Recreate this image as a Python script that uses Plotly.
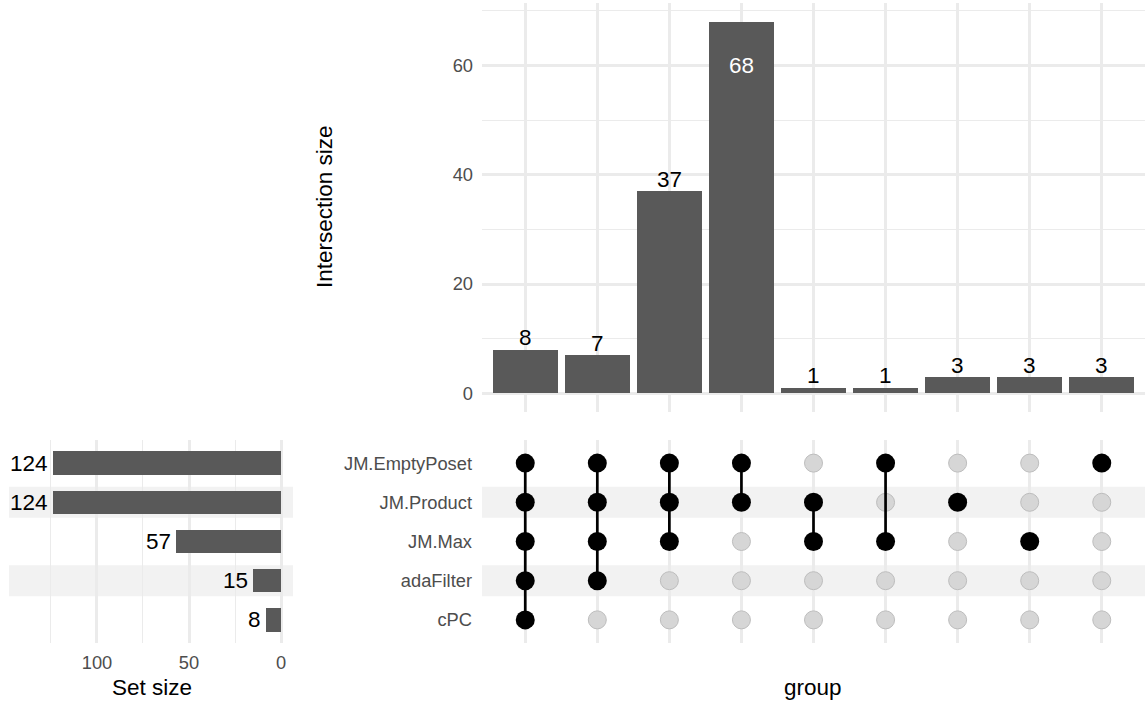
import plotly.graph_objects as go

# Sets, bottom row to top row of the matrix
set_names = ["cPC", "adaFilter", "JM.Max", "JM.Product", "JM.EmptyPoset"]
set_sizes = [8, 15, 57, 124, 124]

# Intersections (left to right): member sets and their sizes
intersection_members = [
    ["cPC", "adaFilter", "JM.Max", "JM.Product", "JM.EmptyPoset"],
    ["adaFilter", "JM.Max", "JM.Product", "JM.EmptyPoset"],
    ["JM.Max", "JM.Product", "JM.EmptyPoset"],
    ["JM.Product", "JM.EmptyPoset"],
    ["JM.Max", "JM.Product"],
    ["JM.Max", "JM.EmptyPoset"],
    ["JM.Product"],
    ["JM.Max"],
    ["JM.EmptyPoset"],
]
intersection_sizes = [8, 7, 37, 68, 1, 1, 3, 3, 3]

W, H = 1145, 705
FONT = "Liberation Sans, Arial, sans-serif"
BAR = "#595959"
GRID = "#ebebeb"
TICK = "#4d4d4d"
STRIPE = "#f2f2f2"
TITLE_SIZE = 22.5
TICK_SIZE = 18.3
LABEL_SIZE = 22.5


def px_x(a, b):
    return [a / W, b / W]


def px_y(top, bottom):
    return [1 - bottom / H, 1 - top / H]


cols = list(range(1, len(intersection_sizes) + 1))
rows = {name: i + 1 for i, name in enumerate(set_names)}

fig = go.Figure()

# Intersection size bars
fig.add_trace(go.Bar(
    x=cols, y=intersection_sizes, width=0.9, marker=dict(color=BAR, line=dict(width=0)),
    xaxis="x", yaxis="y", showlegend=False, hoverinfo="x+y",
))

# Matrix: dots for each set in each intersection, with connecting segments
inactive_x, inactive_y, active_x, active_y = [], [], [], []
seg_x, seg_y = [], []
for c, members in zip(cols, intersection_members):
    member_rows = sorted(rows[m] for m in members)
    for name in set_names:
        if name in members:
            active_x.append(c)
            active_y.append(rows[name])
        else:
            inactive_x.append(c)
            inactive_y.append(rows[name])
    if len(member_rows) > 1:
        seg_x += [c, c, None]
        seg_y += [member_rows[0], member_rows[-1], None]

fig.add_trace(go.Scatter(
    x=inactive_x, y=inactive_y, mode="markers", xaxis="x2", yaxis="y2",
    marker=dict(size=18, color="#d6d6d6", line=dict(color="#bdbdbd", width=1)),
    showlegend=False, hoverinfo="skip",
))
fig.add_trace(go.Scatter(
    x=seg_x, y=seg_y, mode="lines", xaxis="x2", yaxis="y2",
    line=dict(color="black", width=2.7), showlegend=False, hoverinfo="skip",
))
fig.add_trace(go.Scatter(
    x=active_x, y=active_y, mode="markers", xaxis="x2", yaxis="y2",
    marker=dict(size=19, color="black"), showlegend=False, hoverinfo="skip",
))

# Set size bars
fig.add_trace(go.Bar(
    x=set_sizes, y=[rows[n] for n in set_names], orientation="h", width=0.6,
    marker=dict(color=BAR, line=dict(width=0)), xaxis="x3", yaxis="y3",
    showlegend=False, hoverinfo="x",
))

annotations = []
max_size = max(intersection_sizes)
for c, v in zip(cols, intersection_sizes):
    if v > 0.85 * max_size:
        annotations.append(dict(
            x=c, y=v, xref="x", yref="y", text=str(v), showarrow=False,
            yanchor="middle", yshift=-44, font=dict(color="white", size=LABEL_SIZE, family=FONT),
        ))
    else:
        annotations.append(dict(
            x=c, y=v, xref="x", yref="y", text=str(v), showarrow=False,
            yanchor="middle", yshift=12, font=dict(color="black", size=LABEL_SIZE, family=FONT),
        ))

for name, v in zip(set_names, set_sizes):
    annotations.append(dict(
        x=v, y=rows[name], xref="x3", yref="y3", text=str(v), showarrow=False,
        xanchor="right", yanchor="middle", xshift=-3,
        font=dict(color="black", size=LABEL_SIZE, family=FONT),
    ))

# Axis titles
annotations += [
    dict(x=325 / W, y=1 - 207 / H, xref="paper", yref="paper", text="Intersection size",
         textangle=-90, showarrow=False, xanchor="center", yanchor="middle",
         font=dict(color="black", size=TITLE_SIZE, family=FONT)),
    dict(x=813 / W, y=1 - 687 / H, xref="paper", yref="paper", text="group",
         showarrow=False, xanchor="center", yanchor="middle",
         font=dict(color="black", size=TITLE_SIZE, family=FONT)),
    dict(x=152 / W, y=1 - 687 / H, xref="paper", yref="paper", text="Set size",
         showarrow=False, xanchor="center", yanchor="middle",
         font=dict(color="black", size=TITLE_SIZE, family=FONT)),
]

# Alternating row stripes behind matrix and set-size bars
shapes = []
for name in set_names:
    r = rows[name]
    if r % 2 == 0:
        for xr, yr in (("x2 domain", "y2"), ("x3 domain", "y3")):
            shapes.append(dict(
                type="rect", xref=xr, yref=yr, x0=0, x1=1, y0=r - 0.395, y1=r + 0.395,
                fillcolor=STRIPE, line=dict(width=0), layer="below",
            ))

matrix_range = [0.41, len(set_names) + 0.59]
col_range = [0.4, len(cols) + 0.6]
tickfont = dict(color=TICK, size=TICK_SIZE, family=FONT)

fig.update_layout(
    width=W, height=H, margin=dict(l=0, r=0, t=0, b=0),
    paper_bgcolor="white", plot_bgcolor="white", bargap=0,
    font=dict(family=FONT),
    xaxis=dict(domain=px_x(482, 1145), range=col_range, tickvals=cols, showticklabels=False,
               showgrid=True, gridcolor=GRID, gridwidth=2.5, zeroline=False, ticks="",
               anchor="y"),
    yaxis=dict(domain=px_y(3, 412), range=[-0.05 * max_size, 1.05 * max_size],
               tickvals=[0, 20, 40, 60], tickfont=tickfont, showgrid=True, gridcolor=GRID,
               gridwidth=2.5, zeroline=False, ticks="", ticklabelstandoff=8,
               minor=dict(tickvals=[10, 30, 50, 70], showgrid=True, gridcolor=GRID, gridwidth=1.3),
               anchor="x"),
    xaxis2=dict(domain=px_x(482, 1145), range=col_range, tickvals=cols, showticklabels=False,
                showgrid=True, gridcolor=GRID, gridwidth=2.5, zeroline=False, ticks="",
                anchor="y2"),
    yaxis2=dict(domain=px_y(440, 643), range=matrix_range,
                tickvals=[rows[n] for n in set_names], ticktext=set_names, tickfont=tickfont,
                showgrid=False, zeroline=False, ticks="", ticklabelstandoff=9, anchor="x2"),
    xaxis3=dict(domain=px_x(9, 293), range=[147.8, -6.5], tickvals=[0, 50, 100],
                tickfont=tickfont, showgrid=True, gridcolor=GRID, gridwidth=2.5,
                zeroline=False, ticks="", ticklabelstandoff=7,
                minor=dict(tickvals=[25, 75, 125], showgrid=True, gridcolor=GRID, gridwidth=1.3),
                anchor="y3"),
    yaxis3=dict(domain=px_y(440, 643), range=matrix_range, showticklabels=False,
                showgrid=False, zeroline=False, ticks="", anchor="x3"),
    annotations=annotations,
    shapes=shapes,
)

fig.write_html("out.html")
